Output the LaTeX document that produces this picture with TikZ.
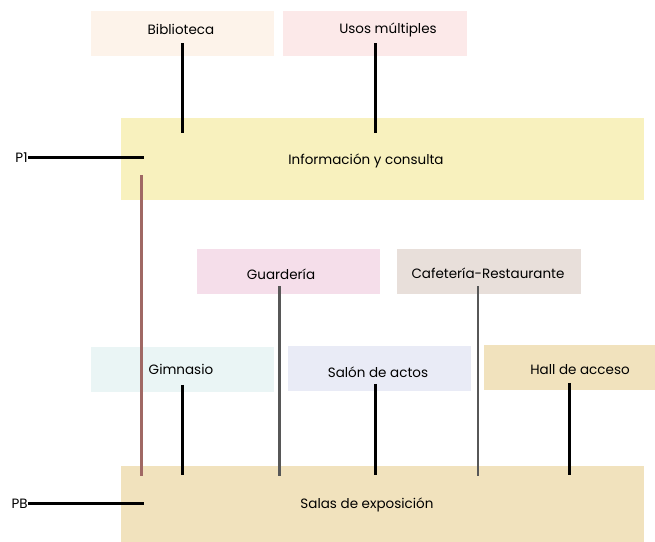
\documentclass[tikz,border=0pt]{standalone}
\usepackage{fontspec}
\setmainfont{Poppins}
\usepackage{tikz}
\definecolor{peach}{HTML}{FDF3EA}
\definecolor{rose}{HTML}{FCE9E9}
\definecolor{lemon}{HTML}{F8F1BE}
\definecolor{pink}{HTML}{F5DEEA}
\definecolor{taupe}{HTML}{E8DFDA}
\definecolor{mint}{HTML}{EAF5F5}
\definecolor{lilac}{HTML}{E9EBF6}
\definecolor{sand}{HTML}{F1E2BD}
\definecolor{brick}{HTML}{A06864}
\tikzset{room/.style={fill=#1,inner sep=0pt,minimum height=22.5pt,minimum width=91.5pt}}
\tikzset{tag/.style={inner sep=0pt,font=\fontsize{6.75}{8}\selectfont}}
\tikzset{link/.style={line width=1.5pt,black}}
\tikzset{thin link/.style={line width=1.1pt,black!66}}

\begin{document}
\begin{tikzpicture}[x=0.5pt,y=-0.5pt]
    \useasboundingbox (0,0) rectangle (655,542);
    % Rooms
    \node[room=peach] (bib) at (182.5,33.5) {};
    \node[room=rose,minimum width=92pt] (usos) at (375,33.5) {};
    \node[room=lemon,minimum width=261.5pt,minimum height=41pt] (info) at (382.5,159) {};
    \node[room=pink] (guard) at (288.5,271.5) {};
    \node[room=taupe,minimum width=92pt] (cafe) at (489,271.5) {};
    \node[room=mint] (gim) at (182.5,369.5) {};
    \node[room=lilac] (salon) at (379.5,368.5) {};
    \node[room=sand,minimum width=85.5pt] (hall) at (569.5,367.5) {};
    \node[room=sand,minimum width=261.5pt,minimum height=38pt] (salas) at (382.5,504) {};
    % Names
    \node[tag] (bibt) at (181,29.5) {Biblioteca};
    \node[tag] (usost) at (388,29.5) {Usos múltiples};
    \node[tag] (infot) at (366,160.5) {Información y consulta};
    \node[tag] (guardt) at (281,274.5) {Guardería};
    \node[tag] (cafet) at (488,273.5) {Cafetería-Restaurante};
    \node[tag] (gimt) at (181,369.5) {Gimnasio};
    \node[tag] (salont) at (378,372.5) {Salón de actos};
    \node[tag] (hallt) at (580,369.5) {Hall de acceso};
    \node[tag] (salast) at (367,504.5) {Salas de exposición};
    % Floors
    \node[tag,anchor=east] (p1) at (28,158) {P1};
    \node[tag,anchor=east] (pb) at (28,504) {PB};
    \coordinate (p1end) at (144,157);
    \coordinate (pbend) at (144,503);
    \draw[link] (p1.east |- p1end) -- (p1end);
    \draw[link] (pb.east |- pbend) -- (pbend);
    % Upper floor
    \foreach \r in {bib,usos}{%
          \draw[link] ([yshift=6.5pt]\r.south) -- ([yshift=-7.5pt]\r.south |- info.north);
        }
    \draw[line width=1.4pt,brick] ([xshift=10.5pt,yshift=12.5pt]info.south west)
          -- ([xshift=10.5pt,yshift=-5pt]salas.north west);
    % Ground floor
    \foreach \r/\dx in {gim/0,salon/-2,hall/0}{%
          \draw[link] ([xshift=\dx pt,yshift=3.8pt]\r.south) -- ([xshift=\dx pt,yshift=-4.5pt]\r.south |- salas.north);
        }
    \foreach \r/\dx in {guard/-4.5,cafe/-5.5}{%
          \draw[thin link] ([xshift=\dx pt,yshift=4pt]\r.south) -- ([xshift=\dx pt,yshift=-5pt]\r.south |- salas.north);
        }
\end{tikzpicture}
\end{document}
